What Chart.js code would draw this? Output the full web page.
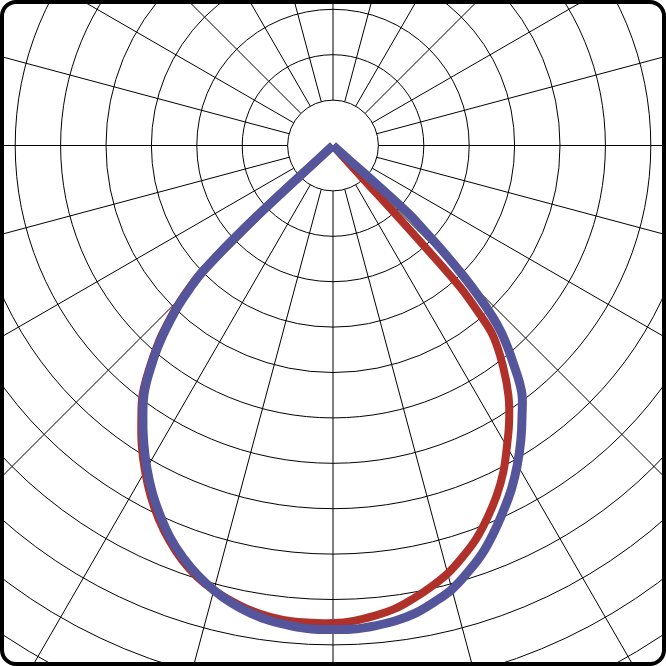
<!DOCTYPE html>
<html>
<head>
<meta charset="utf-8">
<script src="https://cdn.jsdelivr.net/npm/chart.js@4.4.0/dist/chart.umd.min.js"></script>
<style>
  html, body { margin: 0; padding: 0; background: #fff; }
  canvas { display: block; }
</style>
</head>
<body>
<canvas id="polar" width="666" height="666"></canvas>
<script>
// angle from nadir in degrees, one half of the curve (finer near the cut-off)
const ANGLES = [0, 2.5, 5, 7.5, 10, 12.5, 15, 17.5, 20, 22.5, 25, 27.5, 30, 32.5, 35, 37.5,
                40, 41, 42, 43, 44, 45, 46, 47, 48, 49, 50];

// intensity per angle (ring step = 50)
const BLUE_LEFT  = [533, 533, 531, 528, 523, 516, 507, 496, 483, 468, 450, 431, 410, 388, 365, 341,
                    308, 294, 279, 262, 245, 224, 198, 132, 0, 0, 0];
const BLUE_RIGHT = [533, 533, 531, 528, 523, 515, 506, 493, 479, 462, 444, 426, 406, 385, 363, 341,
                    306, 292, 277, 257, 232, 203, 171, 138, 110, 0, 0];
const RED_LEFT   = [526, 526, 526, 524, 520, 514, 507, 498, 486, 471, 454, 435, 414, 392, 368, 344,
                    311, 297, 283, 266, 249, 228, 202, 136, 0, 0, 0];
const RED_RIGHT  = [525, 524, 520, 515, 507, 498, 488, 475, 461, 444, 426, 406, 383, 361, 337, 308,
                    275, 246, 202, 0, 0, 0, 0, 0, 0, 0, 0];

const RING_STEP = 50;
const RING_COUNT = 14;
const SPOKE_STEP = 15;

// 45.4 px per ring, pole at (333, 145.5)
const PX_PER_UNIT = 45.4 / RING_STEP;

function polar(deg, r) {
    const a = deg * Math.PI / 180;
    return { x: r * Math.sin(a), y: -r * Math.cos(a) };
}

function toPoints(left, right) {
    const pts = [];
    for (let i = ANGLES.length - 1; i >= 0; i--) pts.push(polar(-ANGLES[i], left[i]));
    for (let i = 1; i < ANGLES.length; i++) pts.push(polar(ANGLES[i], right[i]));
    return pts;
}

const polarGrid = {
    id: 'polarGrid',
    beforeDatasetsDraw(chart) {
        const { ctx, scales: { x, y } } = chart;
        const cx = x.getPixelForValue(0);
        const cy = y.getPixelForValue(0);
        const unit = x.getPixelForValue(RING_STEP) - cx;
        ctx.save();
        ctx.strokeStyle = '#000';
        ctx.lineWidth = 1;
        for (let k = 1; k <= RING_COUNT; k++) {
            ctx.beginPath();
            ctx.arc(cx, cy, k * unit, 0, Math.PI * 2);
            ctx.stroke();
        }
        for (let deg = 0; deg < 360; deg += SPOKE_STEP) {
            const a = deg * Math.PI / 180;
            ctx.beginPath();
            ctx.moveTo(cx + Math.sin(a) * unit, cy + Math.cos(a) * unit);
            ctx.lineTo(cx + Math.sin(a) * unit * (RING_COUNT + 1), cy + Math.cos(a) * unit * (RING_COUNT + 1));
            ctx.stroke();
        }
        ctx.restore();
    }
};

function roundRect(ctx, x, y, w, h, r) {
    ctx.moveTo(x + r, y);
    ctx.arcTo(x + w, y, x + w, y + h, r);
    ctx.arcTo(x + w, y + h, x, y + h, r);
    ctx.arcTo(x, y + h, x, y, r);
    ctx.arcTo(x, y, x + w, y, r);
    ctx.closePath();
}

const frame = {
    id: 'frame',
    afterDraw(chart) {
        const { ctx, width, height } = chart;
        ctx.save();
        // white outside the rounded corners
        ctx.beginPath();
        ctx.rect(0, 0, width, height);
        roundRect(ctx, 2, 2, width - 4, height - 4, 14);
        ctx.fillStyle = '#fff';
        ctx.fill('evenodd');
        ctx.beginPath();
        roundRect(ctx, 2, 2, width - 4, height - 4, 14);
        ctx.strokeStyle = '#000';
        ctx.lineWidth = 4;
        ctx.stroke();
        ctx.restore();
    }
};

const ctx = document.getElementById('polar').getContext('2d');
const chart = new Chart(ctx, {
    type: 'scatter',
    data: {
        datasets: [{
            label: 'C90-C270',
            data: toPoints(BLUE_LEFT, BLUE_RIGHT),
            borderColor: '#55559b',
            borderWidth: 9,
            showLine: true
        }, {
            label: 'C0-C180',
            data: toPoints(RED_LEFT, RED_RIGHT),
            borderColor: '#b0302a',
            borderWidth: 8,
            showLine: true
        }]
    },
    options: {
        responsive: false,
        animation: false,
        devicePixelRatio: 1,
        layout: { padding: 0 },
        elements: {
            point: { radius: 0, hoverRadius: 0 },
            line: { tension: 0.4, capBezierPoints: false, borderJoinStyle: 'miter', fill: false }
        },
        scales: {
            x: {
                type: 'linear',
                display: false,
                min: -333 / PX_PER_UNIT,
                max: 333 / PX_PER_UNIT
            },
            y: {
                type: 'linear',
                display: false,
                min: -(666 - 145.5) / PX_PER_UNIT,
                max: 145.5 / PX_PER_UNIT
            }
        },
        plugins: {
            legend: { display: false },
            tooltip: { enabled: false }
        }
    },
    plugins: [polarGrid, frame]
});
</script>
</body>
</html>
